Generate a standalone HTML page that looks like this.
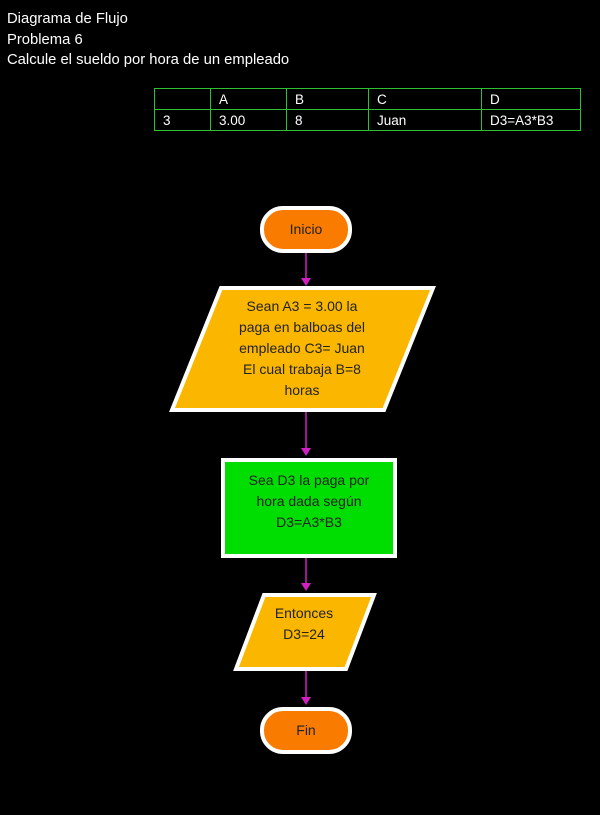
<!DOCTYPE html>
<html><head><style>
body{margin:0;background:#000;}
svg{display:block;font-family:"Liberation Sans",sans-serif;}
</style></head><body>
<svg width="600" height="815" viewBox="0 0 600 815">
<rect width="600" height="815" fill="#000"/>
<g fill="#fff" font-size="14.8">
<text x="7" y="23">Diagrama de Flujo</text>
<text x="7" y="44">Problema 6</text>
<text x="7" y="64">Calcule el sueldo por hora de un empleado</text>
</g>
<g stroke="#2fbf2f" stroke-width="1" fill="none">
<rect x="154.5" y="88.5" width="426" height="42"/>
<line x1="154" y1="109.5" x2="580" y2="109.5"/>
<line x1="210.5" y1="88" x2="210.5" y2="130"/>
<line x1="286.5" y1="88" x2="286.5" y2="130"/>
<line x1="368.5" y1="88" x2="368.5" y2="130"/>
<line x1="481.5" y1="88" x2="481.5" y2="130"/>
</g>
<g fill="#fff" font-size="13.5">
<text x="219" y="104">A</text><text x="295" y="104">B</text><text x="377" y="104">C</text><text x="490" y="104">D</text>
<text x="163" y="125">3</text><text x="219" y="125">3.00</text><text x="295" y="125">8</text><text x="377" y="125">Juan</text><text x="490" y="125">D3=A3*B3</text>
</g>
<g stroke="#d020c0" stroke-width="1.5" fill="#d020c0">
<line x1="306" y1="252" x2="306" y2="280"/><polygon points="301,278 311,278 306,286" stroke="none"/>
<line x1="306" y1="412" x2="306" y2="450"/><polygon points="301,448 311,448 306,456" stroke="none"/>
<line x1="306" y1="557" x2="306" y2="585"/><polygon points="301,583 311,583 306,591" stroke="none"/>
<line x1="306" y1="671" x2="306" y2="699"/><polygon points="301,697 311,697 306,705" stroke="none"/>
</g>
<rect x="262" y="208" width="88" height="43" rx="21" fill="#f97c00" stroke="#fff" stroke-width="4"/>
<text x="306" y="234" text-anchor="middle" font-size="14" fill="#222">Inicio</text>
<polygon points="221,288 433,288 384,410 172,410" fill="#fbb700" stroke="#fff" stroke-width="4"/>
<g font-size="14" fill="#222" text-anchor="middle">
<text x="302" y="311">Sean A3 = 3.00 la</text>
<text x="302" y="332">paga en balboas del</text>
<text x="302" y="353">empleado C3= Juan</text>
<text x="302" y="374">El cual trabaja B=8</text>
<text x="302" y="395">horas</text>
</g>
<rect x="223" y="460" width="172" height="96" fill="#00dd00" stroke="#fff" stroke-width="4"/>
<g font-size="14" fill="#222" text-anchor="middle">
<text x="309" y="485">Sea D3 la paga por</text>
<text x="309" y="506">hora dada según</text>
<text x="309" y="527">D3=A3*B3</text>
</g>
<polygon points="264,595 374,595 346,669 236,669" fill="#fbb700" stroke="#fff" stroke-width="4"/>
<g font-size="14" fill="#222" text-anchor="middle">
<text x="304" y="618">Entonces</text>
<text x="304" y="639">D3=24</text>
</g>
<rect x="262" y="709" width="88" height="43" rx="21" fill="#f97c00" stroke="#fff" stroke-width="4"/>
<text x="306" y="735" text-anchor="middle" font-size="14" fill="#222">Fin</text>
</svg>
</body></html>
